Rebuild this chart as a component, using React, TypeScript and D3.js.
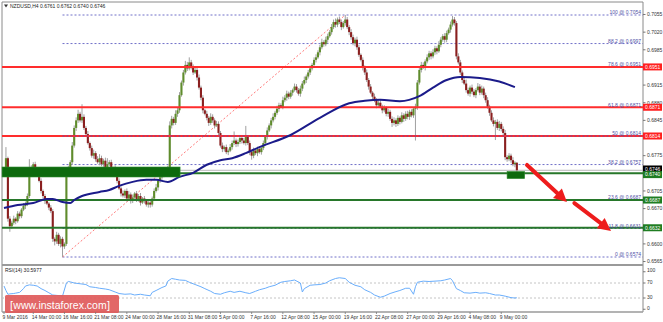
import React from "react";
import * as d3 from "d3";

// Prices are stored in pips above BASE_PRICE (e.g. 246 -> 0.6746)
const BASE_PRICE = 0.65;
const FIRST_OPEN = 240;

const closes = [
  248, 270, 150, 135, 142, 150, 145, 160, 155, 168,
  175, 180, 195, 240, 250, 258, 248, 240, 225, 205,
  195, 185, 180, 172, 165, 110, 105, 118, 100, 110,
  95, 100, 240, 250, 262, 295, 330, 345, 358, 345,
  352, 330, 318, 300, 290, 275, 280, 268, 262, 270,
  258, 265, 250, 258, 262, 245, 250, 240, 225, 210,
  200, 196, 205, 190, 198, 185, 192, 200, 188, 195,
  182, 190, 185, 178, 182, 178, 190, 205, 212, 225,
  232, 240, 238, 248, 250, 335, 348, 340, 358, 365,
  395, 420, 440, 455, 448, 460, 452, 440, 445, 430,
  410, 390, 365, 358, 350, 340, 352, 345, 335, 338,
  320, 295, 288, 292, 282, 285, 292, 300, 305, 298,
  302, 310, 305, 300, 312, 300, 282, 275, 285, 280,
  288, 282, 290, 300, 312, 325, 335, 345, 352, 360,
  368, 375, 372, 385, 390, 398, 392, 400, 405, 412,
  405, 398, 408, 418, 425, 432, 440, 448, 455, 465,
  470, 480, 490, 500, 496, 505, 512, 520, 530, 540,
  535, 545, 540, 530, 538, 545, 530, 520, 510, 498,
  505, 490, 475, 465, 450, 440, 425, 412, 400, 392,
  385, 375, 380, 372, 365, 370, 358, 362, 348, 340,
  345, 338, 350, 342, 355, 348, 358, 352, 362, 355,
  368, 372, 420, 445, 455, 450, 462, 470, 478, 472,
  480, 488, 482, 495, 505, 512, 505, 518, 525, 535,
  545, 538, 472, 460, 440, 425, 418, 405, 398, 410,
  402, 395, 405, 412, 400, 408, 395, 385, 372, 360,
  345, 338, 342, 330, 338, 328, 320, 272, 268, 275,
  266, 258, 261, 246,
];

const upWicks = [
  4, 22, 3, 5, 4, 6, 3, 5, 4, 3, 6, 4, 5, 28, 6, 4, 5, 3, 4, 5,
  3, 4, 6, 3, 5, 4, 3, 6, 4, 5, 4, 3, 6, 5, 4, 7, 5, 6, 8, 4,
  25, 5, 4, 6, 3, 5, 7, 4, 6, 8, 5, 4, 6, 12, 4, 5, 3, 6, 4, 5,
  4, 6, 3, 5, 7, 4, 6, 3, 5, 4, 6, 3, 5, 4, 3, 6, 4, 5, 7, 4,
  5, 3, 6, 4, 5, 8, 6, 4, 7, 5, 6, 4, 5, 8, 6, 10, 5, 4, 6, 5,
  6, 4, 5, 3, 6, 4, 7, 5, 4, 6, 5, 4, 6, 3, 5, 4, 6, 5, 18, 4,
  5, 6, 4, 5, 22, 4, 5, 3, 6, 4, 5, 6, 4, 5, 3, 6, 4, 5, 7, 4,
  6, 5, 4, 7, 5, 6, 4, 5, 3, 6, 5, 4, 6, 5, 7, 4, 5, 6, 4, 5,
  6, 4, 5, 7, 4, 6, 5, 4, 6, 5, 7, 4, 6, 5, 4, 9, 5, 4, 6, 5,
  4, 6, 5, 3, 5, 4, 6, 4, 5, 3, 6, 4, 5, 6, 4, 5, 3, 6, 4, 5,
  6, 4, 5, 3, 6, 4, 5, 6, 4, 5, 3, 6, 5, 4, 6, 5, 4, 6, 5, 4,
  6, 5, 4, 7, 5, 4, 6, 5, 4, 6, 7, 5, 4, 6, 5, 4, 6, 8, 5, 4,
  6, 5, 4, 7, 5, 6, 4, 5, 6, 4, 5, 6, 4, 5, 6, 4, 5, 6, 4, 5,
  4, 6, 3, 1,
];

const downWicks = [
  5, 4, 6, 11, 5, 4, 6, 3, 5, 4, 3, 6, 5, 4, 7, 5, 4, 6, 3, 5,
  4, 6, 3, 5, 4, 6, 8, 5, 4, 7, 21, 5, 4, 6, 3, 5, 4, 6, 5, 4,
  5, 4, 6, 3, 5, 4, 6, 5, 3, 6, 4, 5, 3, 6, 4, 5, 6, 4, 5, 3,
  6, 4, 5, 6, 3, 5, 4, 6, 5, 4, 6, 3, 5, 4, 6, 6, 4, 5, 3, 6,
  4, 5, 6, 3, 5, 4, 6, 5, 4, 6, 5, 3, 6, 4, 5, 4, 6, 5, 3, 6,
  4, 5, 6, 3, 5, 6, 4, 5, 6, 3, 5, 4, 6, 5, 4, 6, 3, 5, 4, 6,
  5, 4, 6, 3, 5, 4, 6, 8, 5, 4, 6, 3, 5, 4, 6, 5, 3, 6, 4, 5,
  4, 6, 3, 5, 4, 6, 5, 4, 6, 3, 5, 4, 6, 5, 3, 6, 4, 5, 4, 6,
  5, 3, 6, 4, 5, 4, 6, 3, 5, 4, 6, 5, 4, 6, 3, 5, 4, 6, 5, 4,
  6, 5, 4, 3, 6, 5, 4, 6, 3, 5, 4, 6, 5, 3, 6, 4, 5, 6, 4, 8,
  5, 6, 4, 5, 3, 6, 4, 5, 6, 4, 5, 63, 6, 4, 5, 3, 6, 4, 5, 6,
  4, 5, 6, 3, 5, 4, 6, 5, 3, 6, 4, 5, 6, 4, 5, 6, 3, 5, 4, 6,
  5, 4, 6, 3, 5, 4, 6, 5, 4, 6, 3, 5, 32, 4, 6, 5, 4, 6, 5, 4,
  5, 4, 6, 6,
];

// moving average: [bar index, pips]
const maPoints: [number, number][] = [
  [0, 171], [7, 177], [15, 181], [22, 189], [25, 189], [30, 183], [34, 181], [36, 187],
  [40, 195], [49, 203], [54, 207], [59, 215], [66, 223], [73, 227], [78, 227], [84, 223],
  [90, 233], [97, 241], [104, 257], [111, 266], [117, 270], [124, 280], [131, 292],
  [147, 316], [162, 350], [177, 379], [185, 384], [193, 386], [203, 383], [213, 393],
  [220, 410], [227, 425], [234, 431], [244, 429], [254, 422], [262, 411],
];

// RSI(14): [bar index, value]
const rsiPoints: [number, number][] = [
  [0, 62], [1, 50], [2, 40], [3, 41], [5, 42], [6, 43], [8, 45], [10, 55], [11, 62], [13, 65],
  [15, 64], [17, 62], [19, 55], [21, 50], [23, 44], [25, 38], [27, 37], [29, 36], [30, 35],
  [32, 70], [33, 74], [34, 73], [36, 70], [39, 68], [42, 66], [44, 60], [47, 58], [49, 56],
  [52, 54], [54, 52], [57, 46], [59, 42], [62, 40], [65, 41], [67, 38], [70, 40], [72, 38],
  [75, 36], [76, 45], [78, 50], [81, 58], [83, 62], [84, 75], [86, 82], [88, 80], [90, 78],
  [93, 77], [95, 72], [98, 66], [101, 60], [103, 55], [106, 48], [108, 42], [111, 40],
  [113, 44], [116, 48], [118, 45], [121, 48], [124, 44], [126, 42], [129, 48], [131, 52],
  [134, 56], [136, 60], [139, 64], [142, 72], [144, 74], [147, 76], [149, 78], [152, 70],
  [153, 46], [154, 55], [157, 64], [159, 65], [162, 66], [165, 70], [167, 76], [170, 82],
  [172, 84], [175, 82], [177, 72], [180, 64], [183, 60], [185, 52], [188, 45], [190, 38],
  [193, 32], [195, 35], [198, 42], [201, 47], [203, 50], [206, 56], [208, 56], [210, 40],
  [211, 60], [212, 72], [215, 75], [218, 74], [224, 76], [226, 78], [229, 82], [230, 76],
  [232, 55], [234, 50], [236, 44], [239, 43], [242, 45], [244, 43], [247, 44], [249, 42],
  [252, 38], [254, 38], [257, 35], [260, 31], [262, 30], [263, 30.6],
];

const priceTicks = [
  0.6565, 0.66, 0.6635, 0.667, 0.6705, 0.674, 0.6775, 0.681, 0.6845, 0.688,
  0.6915, 0.695, 0.6985, 0.702, 0.7055,
];
const rsiTicks = [0, 30, 70, 100];
const rsiLevels = [30, 70];

const timeLabels = [
  "9 Mar 2016", "14 Mar 00:00", "16 Mar 16:00", "21 Mar 08:00", "24 Mar 00:00",
  "28 Mar 16:00", "31 Mar 08:00", "5 Apr 00:00", "7 Apr 16:00", "12 Apr 08:00",
  "15 Apr 00:00", "19 Apr 16:00", "22 Apr 08:00", "27 Apr 00:00", "29 Apr 16:00",
  "4 May 08:00", "9 May 00:00",
];
const timeLabelBars = [0, 15, 31, 47, 63, 79, 95, 111, 127, 143, 159, 175, 191, 207, 223, 239, 255];

const fibLevels = [100, 88.2, 78.6, 61.8, 50, 38.2, 23.6, 11.8, 0];
const fibLow = 0.6574;
const fibHigh = 0.7054;
const fibStartBar = 30;
const fibEndBar = 175;

const redLevels = [0.6951, 0.6871, 0.6814];
const greenLevels = [0.674, 0.6687, 0.6632];
const bidPrice = 0.6746;

const header = "NZDUSD,H4  0.6761 0.6762 0.6740 0.6746";
const rsiLabel = "RSI(14) 30.5977";

// zones: [bar from, bar to, price top, price bottom]
const zones: [number, number, number, number][] = [
  [-1, 90.3, 0.67525, 0.67327],
  [258, 267, 0.67435, 0.67295],
];

// arrows: [bar from, price from, bar to, price to]
const arrows: [number, number, number, number][] = [
  [268.2, 0.67565, 288.7, 0.6683],
  [292.5, 0.6681, 311.3, 0.66256],
];

const P = (v: number) => BASE_PRICE + v / 10000;

export default function App() {
  const x = d3.scaleLinear().domain([0, 263]).range([4, 4 + 1.95 * 263]);
  const y = d3.scaleLinear().domain([fibLow, fibHigh]).range([257, 15]);
  const yr = d3.scaleLinear().domain([0, 100]).range([309.25, 271.75]);

  const LEFT = 2;
  const RIGHT = 643;
  const font = "'Liberation Sans', Arial, sans-serif";

  const candles = closes.map((c, i) => {
    const o = i === 0 ? FIRST_OPEN : closes[i - 1];
    return {
      i,
      o: P(o),
      c: P(c),
      h: P(Math.max(o, c) + upWicks[i]),
      l: P(Math.min(o, c) - downWicks[i]),
    };
  });

  const maLine = d3
    .line<[number, number]>()
    .x((d) => x(d[0]))
    .y((d) => y(P(d[1])))
    .curve(d3.curveMonotoneX)(maPoints);

  const rsiLine = d3
    .line<[number, number]>()
    .x((d) => x(d[0]))
    .y((d) => yr(d[1]))(rsiPoints);

  const fibX0 = x(fibStartBar);
  const bw = 2.1;

  const boxPrices = [...redLevels, bidPrice, ...greenLevels];
  const visibleTicks = priceTicks.filter(
    (t) => !boxPrices.some((b) => Math.abs(y(b) - y(t)) < 4.5)
  );

  const box = (price: number, fill: string, key: string, dy = 0) => (
    <g key={key}>
      <rect x={RIGHT} y={y(price) - 3.5 + dy} width={19} height={7} fill={fill} />
      <text x={RIGHT + 2} y={y(price) + 1.8 + dy} fontSize={5} fill="#fff" fontFamily={font}>
        {price.toFixed(4)}
      </text>
    </g>
  );

  return (
    <svg
      width={663}
      height={322}
      style={{ position: "absolute", left: 0, top: 0, background: "#fff" }}
    >
      <rect x={0} y={0} width={663} height={322} fill="#fff" />

      {/* frame */}
      <line x1={LEFT} y1={2} x2={RIGHT} y2={2} stroke="#8a8a8a" strokeWidth={1} />
      <line x1={LEFT} y1={2} x2={LEFT} y2={312} stroke="#8a8a8a" strokeWidth={1} />
      <line x1={RIGHT} y1={2} x2={RIGHT} y2={312} stroke="#8a8a8a" strokeWidth={1} />
      <line x1={LEFT} y1={265} x2={RIGHT} y2={265} stroke="#9a9a9a" strokeWidth={2} />
      <line x1={LEFT} y1={312} x2={RIGHT} y2={312} stroke="#9a9a9a" strokeWidth={1.5} />

      {/* fibonacci dotted levels */}
      {fibLevels.map((lv) => {
        const pr = fibLow + ((fibHigh - fibLow) * lv) / 100;
        return (
          <line
            key={"fl" + lv}
            x1={fibX0}
            x2={RIGHT}
            y1={y(pr)}
            y2={y(pr)}
            stroke="#7070c8"
            strokeWidth={1}
            strokeDasharray="2,2"
          />
        );
      })}
      <line
        x1={x(fibStartBar)}
        y1={y(fibLow)}
        x2={x(fibEndBar)}
        y2={y(fibHigh)}
        stroke="#ff7a7a"
        strokeWidth={1}
        strokeDasharray="2,2"
      />

      {/* bid line */}
      <line x1={LEFT} x2={RIGHT} y1={y(bidPrice)} y2={y(bidPrice)} stroke="#b8b8b8" strokeWidth={1} />

      {/* candles */}
      {candles.map((d) => {
        const up = d.c > d.o;
        const dn = d.c < d.o;
        const top = y(Math.max(d.o, d.c));
        const bot = y(Math.min(d.o, d.c));
        return (
          <g key={"c" + d.i}>
            <line x1={x(d.i)} x2={x(d.i)} y1={y(d.h)} y2={y(d.l)} stroke="#a0a0a0" strokeWidth={1} />
            <rect
              x={x(d.i) - bw / 2}
              y={top}
              width={bw}
              height={Math.max(1, bot - top)}
              fill={up ? "#5f8c2c" : dn ? "#8a1f1f" : "#b0b0b0"}
            />
          </g>
        );
      })}

      {/* horizontal support / resistance */}
      {redLevels.map((p) => (
        <line key={"r" + p} x1={LEFT} x2={RIGHT} y1={y(p)} y2={y(p)} stroke="#ff2d2d" strokeWidth={2} />
      ))}
      {greenLevels.map((p) => (
        <line key={"g" + p} x1={LEFT} x2={RIGHT} y1={y(p)} y2={y(p)} stroke="#27772a" strokeWidth={2} />
      ))}
      {/* dotted fib 50 over red */}
      <line
        x1={fibX0}
        x2={RIGHT}
        y1={y(fibLow + (fibHigh - fibLow) * 0.5)}
        y2={y(fibLow + (fibHigh - fibLow) * 0.5)}
        stroke="#6a4aa8"
        strokeWidth={1}
        strokeDasharray="2,2"
      />

      {/* moving average */}
      <path d={maLine || ""} fill="none" stroke="#1b1b8a" strokeWidth={2} />

      {/* zones */}
      {zones.map((z, k) => (
        <rect
          key={"z" + k}
          x={Math.max(LEFT, x(z[0]))}
          y={y(z[2])}
          width={x(z[1]) - Math.max(LEFT, x(z[0]))}
          height={y(z[3]) - y(z[2])}
          fill="#0d6a0d"
          stroke="#2f8a2f"
          strokeWidth={0.6}
        />
      ))}

      {/* arrows */}
      {arrows.map((a, k) => {
        const x1 = x(a[0]);
        const y1 = y(a[1]);
        const x2 = x(a[2]);
        const y2 = y(a[3]);
        const ang = Math.atan2(y2 - y1, x2 - x1);
        const hl = 13;
        const hw = 6.5;
        const bx = x2 - hl * Math.cos(ang);
        const by = y2 - hl * Math.sin(ang);
        const px = -Math.sin(ang);
        const py = Math.cos(ang);
        return (
          <g key={"a" + k}>
            <line x1={x1} y1={y1} x2={bx} y2={by} stroke="#ee1c1c" strokeWidth={4} strokeLinecap="round" />
            <polygon
              points={`${x2},${y2} ${bx + px * hw},${by + py * hw} ${bx - px * hw},${by - py * hw}`}
              fill="#ee1c1c"
            />
          </g>
        );
      })}

      {/* fib labels */}
      {fibLevels.map((lv) => {
        const pr = fibLow + ((fibHigh - fibLow) * lv) / 100;
        return (
          <text
            key={"ft" + lv}
            x={RIGHT - 2}
            y={y(pr) - 0.9}
            fontSize={5}
            fill="#4f4fa6"
            textAnchor="end"
            fontFamily={font}
          >
            {`${lv} @ ${pr.toFixed(4)}`}
          </text>
        );
      })}

      {/* price axis */}
      {priceTicks.map((t) => (
        <line key={"ptl" + t} x1={RIGHT} x2={RIGHT + 2.5} y1={y(t)} y2={y(t)} stroke="#777" strokeWidth={1} />
      ))}
      {visibleTicks.map((t) => (
        <text key={"pt" + t} x={RIGHT + 4} y={y(t) + 1.8} fontSize={5} fill="#333" fontFamily={font}>
          {t.toFixed(4)}
        </text>
      ))}
      {redLevels.map((p) => box(p, "#ff2020", "rb" + p))}
      {box(bidPrice, "#000000", "bb", -1.3)}
      {greenLevels.map((p, k) => box(p, "#1f7d22", "gb" + p, k === 0 ? 1.3 : 0))}

      {/* header */}
      <path d="M4,4.5 L8,4.5 L6,7.5 Z" fill="#333" />
      <text x={10} y={7.5} fontSize={5} fill="#222" fontFamily={font}>
        {header}
      </text>

      {/* RSI panel */}
      {rsiLevels.map((lv) => (
        <line
          key={"rl" + lv}
          x1={LEFT}
          x2={RIGHT}
          y1={yr(lv)}
          y2={yr(lv)}
          stroke="#c4c4c4"
          strokeWidth={1}
          strokeDasharray="2,2"
        />
      ))}
      <path d={rsiLine || ""} fill="none" stroke="#6aaefc" strokeWidth={1} />
      <text x={5} y={271.5} fontSize={5} fill="#222" fontFamily={font}>
        {rsiLabel}
      </text>
      {rsiTicks.map((t) => (
        <g key={"rt" + t}>
          <line x1={RIGHT} x2={RIGHT + 2.5} y1={yr(t)} y2={yr(t)} stroke="#777" strokeWidth={1} />
          <text x={RIGHT + 4} y={yr(t) + 0.5} fontSize={5} fill="#333" fontFamily={font}>
            {t}
          </text>
        </g>
      ))}

      {/* logo */}
      <rect x={5} y={295} width={114} height={18} rx={1.5} fill="#e05a5a" opacity={0.92} />
      <text x={10} y={308.5} fontSize={11} fill="#fff" fontFamily={font}>
        [
      </text>
      <text x={60} y={308.5} fontSize={10.5} fill="#fff" fontFamily={font} textAnchor="middle">
        www.instaforex.com
      </text>
      <text x={107} y={308.5} fontSize={11} fill="#fff" fontFamily={font}>
        ]
      </text>

      {/* time axis */}
      {timeLabels.map((lab, k) => (
        <g key={"tl" + k}>
          <line
            x1={x(timeLabelBars[k])}
            x2={x(timeLabelBars[k])}
            y1={312}
            y2={314}
            stroke="#777"
            strokeWidth={0.8}
          />
          <text
            x={x(timeLabelBars[k]) - 1.5}
            y={318.5}
            fontSize={5}
            fill="#333"
            fontFamily={font}
          >
            {lab}
          </text>
        </g>
      ))}
    </svg>
  );
}
